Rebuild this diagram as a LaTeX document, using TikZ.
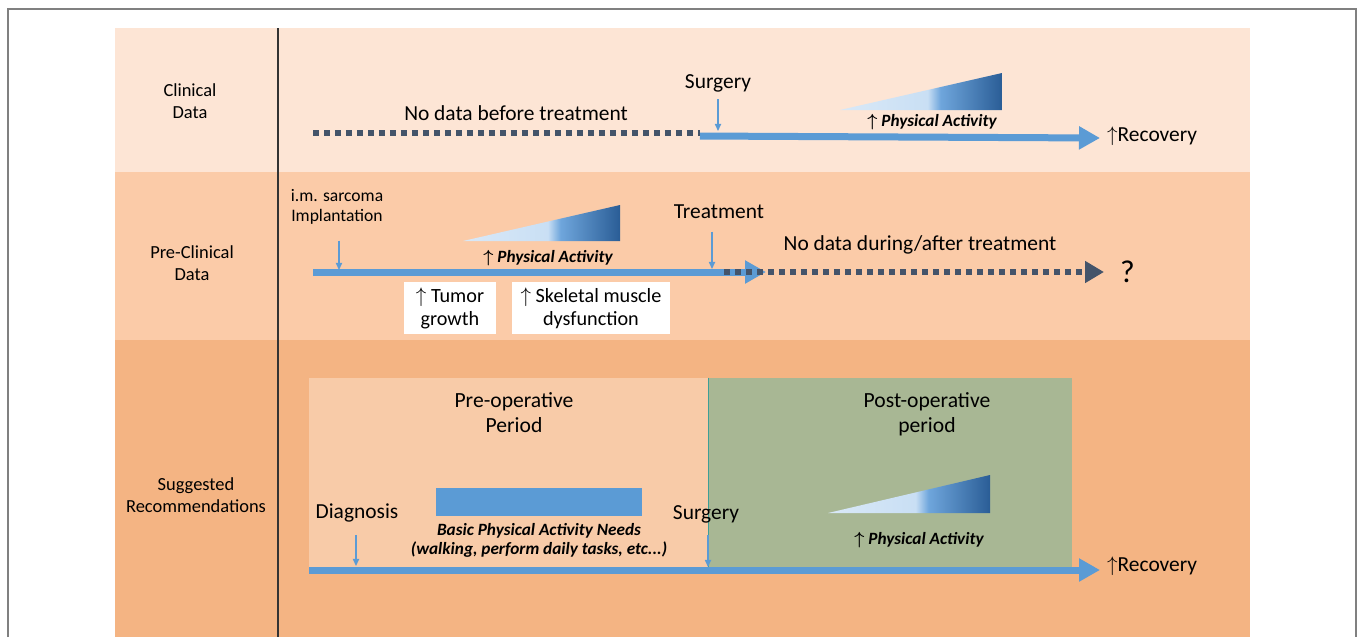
\documentclass[tikz,border=0pt]{standalone}
\usepackage{fontspec}
\setmainfont{Carlito}
\usetikzlibrary{positioning}
\usetikzlibrary{arrows.meta}
\definecolor{rowone}{HTML}{FDE5D5}
\definecolor{rowtwo}{HTML}{FBCBA8}
\definecolor{rowthree}{HTML}{F4B483}
\definecolor{preopfill}{HTML}{F8CBA8}
\definecolor{postopfill}{HTML}{A8B794}
\definecolor{barblue}{HTML}{5B9BD5}
\definecolor{slate}{HTML}{44546A}
\definecolor{palight}{HTML}{C9DFF4}
\definecolor{pamid}{HTML}{6FA6DC}
\definecolor{padark}{HTML}{2A5D96}
\definecolor{edgeteal}{HTML}{3E9E96}
\pgfdeclarehorizontalshading{pagrad}{100bp}{color(0bp)=(palight!70!white); color(25bp)=(palight!70!white); color(52bp)=(palight); color(56bp)=(pamid); color(75bp)=(padark); color(100bp)=(padark)}
\tikzset {
  % row titles in the left column
  rowtitle/.style={align=center, font=\fontsize{10.5}{12.5}\selectfont},
  % events written above the time lines
  event/.style={align=center, inner sep=1pt, font=\fontsize{12.2}{14}\selectfont},
  smallevent/.style={align=center, inner sep=1pt, font=\fontsize{10}{11.3}\selectfont},
  % bold italic activity captions
  pacap/.style={align=center, inner sep=1pt, font=\boldmath\bfseries\itshape\fontsize{9.8}{10.8}\selectfont},
  % white result boxes
  result/.style={fill=white, align=center, font=\fontsize{11.5}{13}\selectfont},
  % time lines
  mainbar/.style={barblue, line width=0.14cm, -{Triangle[length=0.42cm,width=0.44cm]}},
  nodata/.style={slate, line width=0.12cm, dash pattern=on 0.12cm off 0.1cm},
  % thin arrows that mark an event
  marker/.style={barblue, line width=0.7pt, -{Triangle[length=4pt,width=3.5pt]}},
  periodbox/.style={inner sep=0pt, minimum height=3.78cm},
}
\begin{document}
\begin{tikzpicture}[x=0.02cm, y=-0.02cm]
  \useasboundingbox (0,0) rectangle (1360,637);
  \draw[gray, line width=0.8pt] (8,637) -- (8,9) -- (1356,9) -- (1356,637);

  % the three rows
  \fill[rowone] (115,28) rectangle (1250,172);
  \fill[rowtwo] (115,172) rectangle (1250,340);
  \fill[rowthree] (115,340) rectangle (1250,637);
  \draw[black!80, line width=0.6pt] (278,28) -- (278,637);

  \node[rowtitle] (clin) at (190,101) {Clinical\\Data};
  \node[rowtitle] (preclin) at (192,263) {Pre-Clinical\\Data};
  \node[rowtitle] (sugg) at (196,495) {Suggested\\Recommendations};

  % clinical data
  \coordinate (nd1s) at (313,133);
  \coordinate (nd1e) at (700,133);
  \coordinate (bar1s) at (700,136);
  \coordinate (bar1e) at (1100,138);
  \draw[nodata] (nd1s) -- (nd1e);
  \draw[mainbar] (bar1s) -- (bar1e);
  \node[event] (nd1) at (516,113) {No data before treatment};
  \node[event] (surg1) at (718,83) {Surgery};
  \coordinate (surg1pt) at (718,131);
  \draw[marker] ([yshift=-3pt]surg1pt |- surg1.south) -- (surg1pt);
  \node[event, right=0.1cm of bar1e, yshift=1pt] (rec1) {$\uparrow$Recovery};
  \shade[shading=pagrad] (840,110) -- (1002,110) -- (1002,73) -- cycle;
  \node[pacap] (pa1) at (932,122) {$\uparrow$ Physical Activity};

  % pre-clinical data
  \coordinate (bar2s) at (313,272);
  \coordinate (bar2e) at (766,272);
  \coordinate (nd2s) at (724,272);
  \coordinate (nd2e) at (1104,272);
  \draw[mainbar] (bar2s) -- (bar2e);
  \draw[nodata, -{Triangle[length=0.38cm,width=0.42cm]}] (nd2s) -- (nd2e);
  \node[smallevent] (impl) at (337,207) {i.m. sarcoma\\Implantation};
  \coordinate (implpt) at (339,270);
  \draw[marker] ([yshift=-8pt]implpt |- impl.south) -- (implpt);
  \node[event] (treat) at (719,212) {Treatment};
  \coordinate (treatpt) at (712,269);
  \draw[marker] ([yshift=-6pt]treatpt |- treat.south) -- (treatpt);
  \node[event] (nd2) at (920,245) {No data during/after treatment};
  \node[font=\fontsize{18}{20}\selectfont, right=0.2cm of nd2e] (quest) {?};
  \shade[shading=pagrad] (463,241) -- (620,241) -- (620,205) -- cycle;
  \node[pacap] (pa2) at (548,258) {$\uparrow$ Physical Activity};
  \node[result, minimum width=1.86cm, minimum height=1.04cm] (tumor) at (450,308) {$\uparrow$ Tumor\\growth};
  \node[result, minimum width=3.16cm, minimum height=1.04cm] (muscle) at (591,308) {$\uparrow$ Skeletal muscle\\dysfunction};

  % suggested recommendations
  \node[periodbox, fill=preopfill, minimum width=8cm] (preop) at (509,472.5) {};
  \node[periodbox, fill=postopfill, minimum width=7.26cm] (postop) at (890.5,472.5) {};
  \draw[edgeteal, line width=0.6pt] (postop.north west) -- (postop.south west);
  \node[event, font=\fontsize{12.3}{14.2}\selectfont] (preoplab) at (514,413) {Pre-operative\\Period};
  \node[event, font=\fontsize{12.3}{14.2}\selectfont] (postoplab) at (927,414) {Post-operative\\period};
  \node[fill=barblue, inner sep=0pt, minimum width=4.12cm, minimum height=0.56cm] (basic) at (539,502) {};
  \node[pacap] (basiclab) at (539,540) {Basic Physical Activity Needs\\(walking, perform daily tasks, etc...)};

  \coordinate (bar3s) at (309,570);
  \coordinate (bar3e) at (1100,570);
  \draw[mainbar] (bar3s) -- (bar3e);
  \node[event] (diag) at (357,513) {Diagnosis};
  \coordinate (diagpt) at (356,566);
  \draw[marker] ([yshift=-6pt]diagpt |- diag.south) -- (diagpt);
  \node[event] (surg3) at (706,514) {Surgery};
  \coordinate (surg3pt) at (708,567);
  \draw[marker] ([yshift=-6pt]surg3pt |- surg3.south) -- (surg3pt);
  \node[event, right=0.1cm of bar3e, yshift=2pt] (rec3) {$\uparrow$Recovery};
  \shade[shading=pagrad] (828,513) -- (990,513) -- (990,475) -- cycle;
  \node[pacap] (pa3) at (919,540) {$\uparrow$ Physical Activity};
\end{tikzpicture}
\end{document}
